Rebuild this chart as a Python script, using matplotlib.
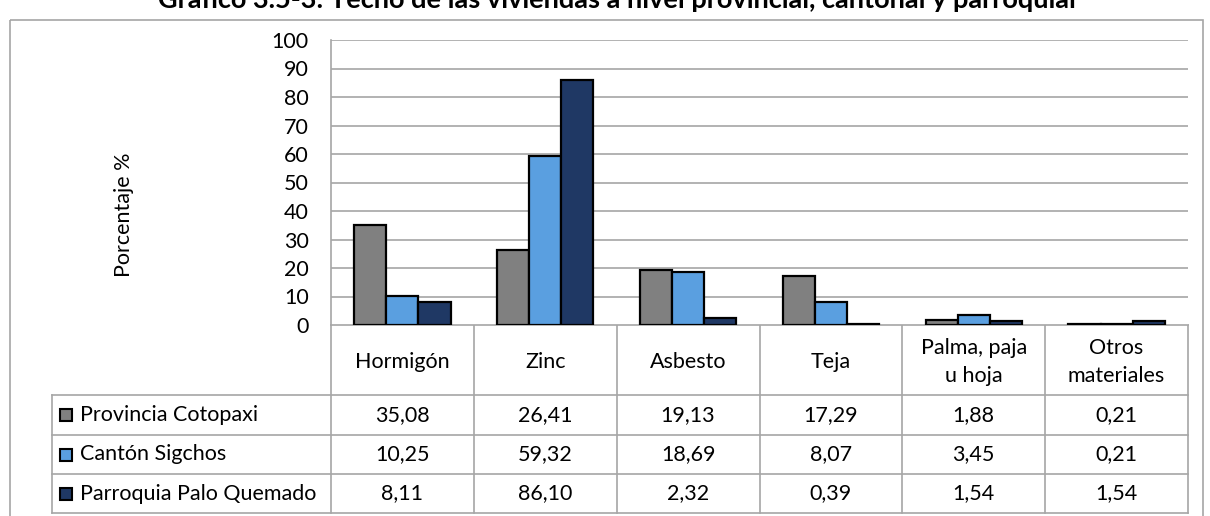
import matplotlib
matplotlib.use("Agg")
import matplotlib.pyplot as plt
from matplotlib.patches import Rectangle
import numpy as np

plt.rcParams['font.family'] = ['Lato', 'DejaVu Sans']

categories = ['Hormigón', 'Zinc', 'Asbesto', 'Teja', 'Palma, paja\nu hoja', 'Otros\nmateriales']
series = ['Provincia Cotopaxi', 'Cantón Sigchos', 'Parroquia Palo Quemado']
provincia = [35.08, 26.41, 19.13, 17.29, 1.88, 0.21]
canton = [10.25, 59.32, 18.69, 8.07, 3.45, 0.21]
parroquia = [8.11, 86.10, 2.32, 0.39, 1.54, 1.54]
colors = ['#808080', '#5a9fe0', '#1f3864']
title = 'Gráfico 3.5-3: Techo de las viviendas a nivel provincial, cantonal y parroquial'

W, H = 1210, 516
fs = 15.5
fig = plt.figure(figsize=(W / 100, H / 100), dpi=100)

# background axes in pixel coords for frame + table
bg = fig.add_axes([0, 0, 1, 1])
bg.set_xlim(0, W)
bg.set_ylim(H, 0)
bg.axis('off')

px_left, px_right, px_zero, px_top = 331, 1188, 325, 40
ax = fig.add_axes([px_left / W, (H - px_zero) / H,
                   (px_right - px_left) / W, (px_zero - px_top) / H])

n = len(categories)
x = np.arange(n)
bw = 0.225
for i, (vals, c) in enumerate(zip([provincia, canton, parroquia], colors)):
    ax.bar(x + (i - 1) * bw, vals, width=bw, color=c, edgecolor='black',
           linewidth=1.6, zorder=3)

ax.set_xlim(-0.5, n - 0.5)
ax.set_ylim(0, 100)
ax.set_yticks(range(0, 101, 10))
ax.tick_params(axis='y', length=0, labelsize=fs, pad=16)
ax.set_xticks([])
ax.grid(axis='y', color='#a6a6a6', linewidth=1.2, zorder=0)
for s in ['top', 'right', 'bottom']:
    ax.spines[s].set_visible(False)
ax.spines['left'].set_color('#a6a6a6')
ax.spines['left'].set_linewidth(1.2)
ax.set_ylabel('Porcentaje %', fontsize=fs)
ax.yaxis.set_label_coords((134 - px_left) / (px_right - px_left), (px_zero - 215) / (px_zero - px_top))

# outer frame
bg.add_patch(Rectangle((10, 20), 1193, 520, fill=False, edgecolor='#a6a6a6', linewidth=1.2))

fig.text(617 / W, 1 - 8 / H, title, ha='center', va='baseline',
         fontsize=19.5, fontweight='bold')

# table
col_w = (px_right - px_left) / n
row_y = [325, 395, 435, 474, 513]
tab_left = 52
lc = '#a6a6a6'
# horizontal lines
bg.plot([px_left, px_right], [row_y[0], row_y[0]], color=lc, lw=1.2)
for y in row_y[1:]:
    bg.plot([tab_left, px_right], [y, y], color=lc, lw=1.2)
# vertical lines
for j in range(n + 1):
    xx = px_left + j * col_w
    bg.plot([xx, xx], [row_y[0], row_y[-1]], color=lc, lw=1.2)
bg.plot([tab_left, tab_left], [row_y[1], row_y[-1]], color=lc, lw=1.2)

for j, cat in enumerate(categories):
    bg.text(px_left + (j + 0.5) * col_w, (row_y[0] + row_y[1]) / 2 + 2, cat,
            ha='center', va='center', fontsize=fs, linespacing=1.45)

for r, (name, vals, c) in enumerate(zip(series, [provincia, canton, parroquia], colors)):
    yc = (row_y[r + 1] + row_y[r + 2]) / 2
    bg.add_patch(Rectangle((60, yc - 6), 12, 12, facecolor=c, edgecolor='black', lw=1.5))
    bg.text(80, yc, name, ha='left', va='center', fontsize=fs)
    for j, v in enumerate(vals):
        bg.text(px_left + (j + 0.5) * col_w, yc, f'{v:.2f}'.replace('.', ','),
                ha='center', va='center', fontsize=fs)

fig.savefig('out.png', dpi=100)
